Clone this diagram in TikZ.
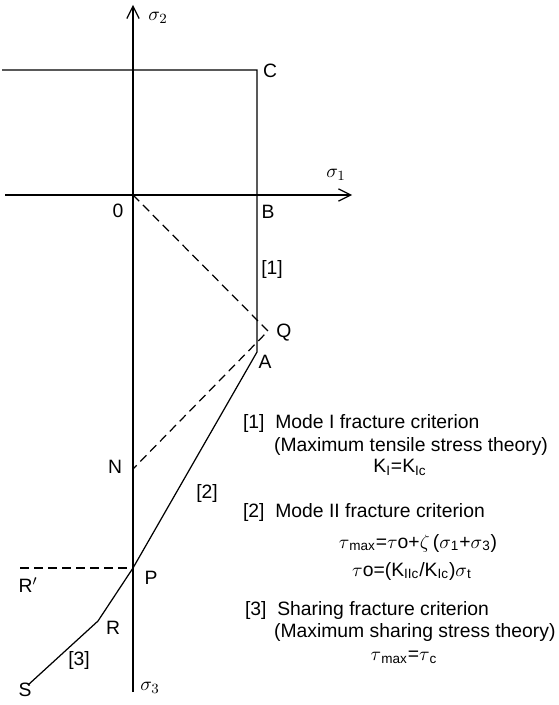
\documentclass[tikz,border=0pt]{standalone}
\usepackage{fontspec}
\setmainfont{Liberation Sans}
\usetikzlibrary{arrows.meta}

\begin{document}
\begin{tikzpicture}[
        x=0.02cm, y=-0.02cm,
        every node/.style={font=\fontsize{11}{13}\selectfont, inner sep=1pt},
        axis/.style={line width=0.7pt, -{Straight Barb[length=7pt, width=7pt]}},
        bound/.style={line width=0.7pt},
        guide/.style={line width=0.7pt, dash pattern=on 5pt off 3pt},
        note/.style={anchor=west}
    ]
        \useasboundingbox (0,0) rectangle (558,705);

        % points of the failure envelope
        \coordinate (O) at (133,195);
        \coordinate (xs) at (5,195);
        \coordinate (xe) at (352,195);
        \coordinate (ys) at (133,692);
        \coordinate (ye) at (133,5);
        \coordinate (L) at (2,70);
        \coordinate (C) at (257,70);
        \coordinate (A) at (257,352);
        \coordinate (Q) at (268,331);
        \coordinate (N) at (133,469);
        \coordinate (P) at (133,568);
        \coordinate (Rp) at (20,568);
        \coordinate (R) at (98,621);
        \coordinate (S) at (28,685);

        % axes
        \draw[axis] (xs) -- (xe);
        \draw[axis] (ys) -- (ye);

        % envelope
        \draw[bound] (L) -- (C) -- (A) -- (P) -- (R) -- (S);

        % construction lines
        \draw[guide] (O) -- (Q) -- (N);
        \draw[guide] (Rp) -- (P);

        % labels
        \node (s2) at (158,18) {$\sigma_2$};
        \node (s1) at (336,175) {$\sigma_1$};
        \node (s3) at (150,688) {$\sigma_3$};
        \node (lC) at (270,71) {C};
        \node (lO) at (118,211) {0};
        \node (lB) at (268,212) {B};
        \node (l1) at (272,270) {[1]};
        \node (lQ) at (284,333) {Q};
        \node (lA) at (265,362) {A};
        \node (lN) at (115,467) {N};
        \node (l2) at (207,493) {[2]};
        \node (lP) at (151,578) {P};
        \node (lRp) at (28,585) {R$'$};
        \node (lR) at (113,628) {R};
        \node (l3) at (79,660) {[3]};
        \node (lS) at (25,690) {S};

        % criteria
        \node[note] (c1) at (241,424) {[1]\ \ Mode I fracture criterion};
        \node[note] (c1b) at (272,446) {(Maximum tensile stress theory)};
        \node (c1c) at (400,467) {K\textsubscript{I}=K\textsubscript{Ic}};
        \node[note] (c2) at (241,512) {[2]\ \ Mode II fracture criterion};
        \node (c2b) at (418,543) {$\tau$\textsubscript{max}=$\tau$o+$\zeta$\,($\sigma$\textsubscript{1}+$\sigma$\textsubscript{3})};
        \node (c2c) at (412,571) {$\tau$o=(K\textsubscript{IIc}/K\textsubscript{Ic})$\sigma$\textsubscript{t}};
        \node[note] (c3) at (243,610) {[3]\ \ Sharing fracture criterion};
        \node[note] (c3b) at (272,632) {(Maximum sharing stress theory)};
        \node (c3c) at (404,657) {$\tau$\textsubscript{max}=$\tau$\textsubscript{c}};
    \end{tikzpicture}
\end{document}
